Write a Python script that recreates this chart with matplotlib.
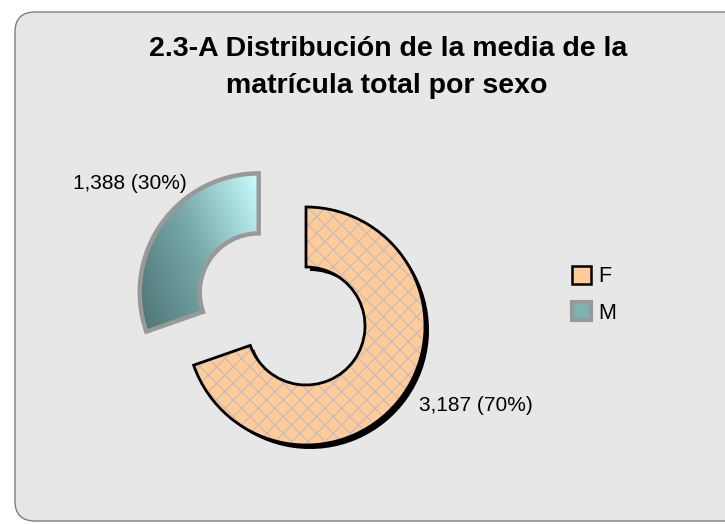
import numpy as np
import matplotlib.pyplot as plt
from matplotlib.patches import FancyBboxPatch, Patch
from matplotlib.colors import LinearSegmentedColormap

# chart data
categories = ['F', 'M']
values = [3187, 1388]
title_lines = ['2.3-A Distribución de la media de la', 'matrícula total por sexo']

W, H = 725, 524


def main():
    plt.rcParams['font.family'] = ['Liberation Sans', 'DejaVu Sans']
    plt.rcParams['hatch.linewidth'] = 0.9

    fig = plt.figure(figsize=(W / 100, H / 100), dpi=100)
    ax = fig.add_axes([0, 0, 1, 1])

    # rounded chart area with light gray fill
    frame = FancyBboxPatch((15, 3), 760, H - 15, boxstyle='round,pad=0,rounding_size=20',
                           fc='#E7E7E7', ec='#7F7F7F', lw=1, zorder=0)
    ax.add_patch(frame)

    center = (306, H - 326)
    radius = 119
    explode = [0, 58]
    ring = dict(width=60)

    # black drop shadow under the F slice
    shadow, _ = ax.pie(values, startangle=90, counterclock=False, radius=radius,
                       center=(center[0] + 4, center[1] - 4), explode=explode, frame=True,
                       colors=['black', 'none'], wedgeprops=dict(ring, linewidth=0))
    for w in shadow:
        w.set_zorder(1)

    # fill pass (F hatched, M left empty for gradient)
    wedges, _ = ax.pie(values, startangle=90, counterclock=False, radius=radius,
                       center=center, explode=explode, frame=True,
                       colors=['#FFCC99', 'none'],
                       wedgeprops=dict(ring, linewidth=0))
    wedges[0].set_hatch('xx')
    wedges[0].set_edgecolor('#C8BCBC')
    for w in wedges:
        w.set_zorder(1.2)

    # gradient for M slice, clipped to the wedge
    verts = wedges[1].get_path().vertices
    x0, y0 = verts.min(axis=0)
    x1, y1 = verts.max(axis=0)
    gx, gy = np.meshgrid(np.linspace(0, 1, 200), np.linspace(0, 1, 200))
    grad = 0.65 * gx + 0.35 * gy
    cmap = LinearSegmentedColormap.from_list('teal', ['#4C7273', '#78A8A9', '#C9FFFF'])
    img = ax.imshow(grad, extent=[x0, x1, y0, y1], origin='lower', cmap=cmap,
                    interpolation='bilinear', aspect='auto', zorder=1.5)
    img.set_clip_path(wedges[1])

    # outline pass
    outlines, _ = ax.pie(values, startangle=90, counterclock=False, radius=radius,
                         center=center, explode=explode, frame=True,
                         colors=['none', 'none'],
                         wedgeprops=dict(ring, fill=False))
    outlines[0].set_edgecolor('black')
    outlines[0].set_linewidth(2)
    outlines[1].set_edgecolor('#999999')
    outlines[1].set_linewidth(3.2)
    for w in outlines:
        w.set_zorder(2)

    # data labels
    total = sum(values)
    labels = [f'{v:,} ({v / total:.0%})' for v in values]
    ax.text(419, H - 411, labels[0], fontsize=15, va='baseline', ha='left')
    ax.text(73, H - 189, labels[1], fontsize=15, va='baseline', ha='left')

    # title
    ax.text(388, H - 56, title_lines[0], fontsize=20.5, fontweight='bold', ha='center', va='baseline')
    ax.text(387, H - 93, title_lines[1], fontsize=20.5, fontweight='bold', ha='center', va='baseline')

    handles = [Patch(fc='#FFCC99', ec='black', lw=1.8),
               Patch(fc='#7DB3B3', ec='#999999', lw=3)]
    ax.legend(handles, categories, loc='upper left', bbox_to_anchor=(572 / W, 1 - 266 / H),
              frameon=False, fontsize=15.5, handlelength=0.9, handleheight=0.9,
              handletextpad=0.3, labelspacing=0.7, borderpad=0, borderaxespad=0)

    ax.set_xlim(0, W)
    ax.set_ylim(0, H)
    ax.set_aspect('auto')
    ax.axis('off')

    fig.savefig('out.png', dpi=100)


if __name__ == '__main__':
    main()
